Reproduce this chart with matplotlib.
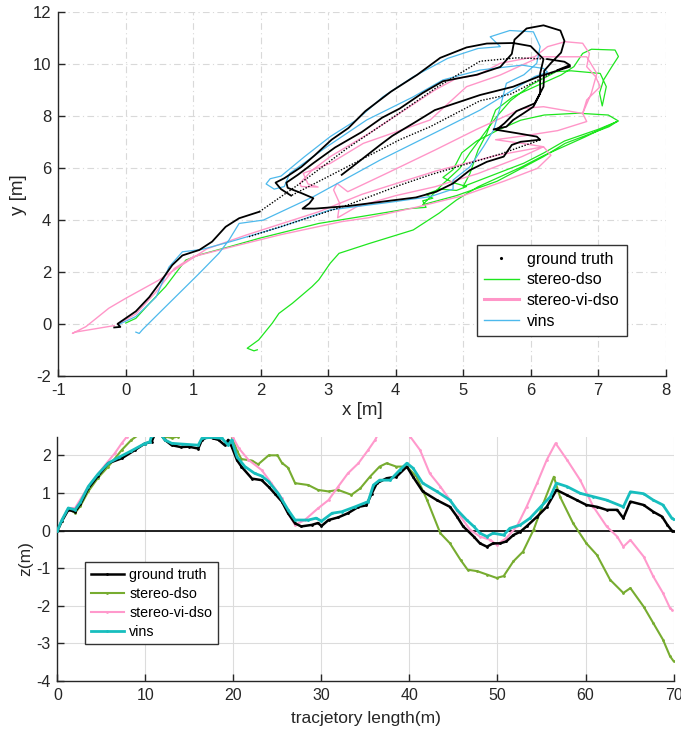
import numpy as np
import matplotlib
matplotlib.use("Agg")
import matplotlib.pyplot as plt
from matplotlib.lines import Line2D

plt.rcParams['font.family'] = ['Liberation Sans', 'DejaVu Sans']
plt.rcParams['axes.unicode_minus'] = False

NAN = (np.nan, np.nan)

# ---------------- top panel: x-y trajectories (m) ----------------
gt_solid_xy = [
    (-0.17, -0.12), (-0.08, -0.1), (-0.12, 0.02), (0.15, 0.5), (0.35, 1.05), (0.5, 1.58), (0.69, 2.28),
    (0.84, 2.65), (1.09, 2.86), (1.28, 3.18), (1.48, 3.75), (1.68, 4.08), (1.98, 4.33), NAN,
    (6.25, 10.2), (6.5, 10.1), (6.58, 9.97), (6.4, 9.78), NAN,
    (2.45, 4.95), (2.3, 5.2), (2.22, 5.45), (2.35, 5.62), (2.6, 6.05), (2.8, 6.5), (3.05, 7.1),
    (3.3, 7.55), (3.55, 8.2), (3.93, 8.95), (4.32, 9.6), (4.66, 10.25), (5.05, 10.65), (5.35, 10.8),
    (5.74, 10.82), (6.0, 10.7), (6.19, 10.2), (6.14, 9.65), (6.14, 8.88), (6.04, 8.37), (5.89, 8.11),
    (5.74, 7.86), (5.64, 7.6), (5.45, 7.5), (5.8, 7.35), (6.09, 7.22), (6.14, 7.1), (5.85, 7.02),
    (5.72, 6.9), (5.6, 6.45), (5.35, 6.25), (5.1, 5.93), (4.85, 5.42), (4.6, 5.1), (4.3, 4.88),
    (3.9, 4.75), (3.3, 4.55), (2.8, 4.45), (2.62, 4.45), (2.72, 4.65), (2.78, 4.85), (2.6, 5.05),
    (2.4, 5.25), (2.38, 5.45), (2.55, 5.75), (2.78, 6.2), (3.1, 6.8), (3.5, 7.4), (3.8, 7.95),
    (4.06, 8.3), (4.4, 8.9), (4.7, 9.35), (5.2, 9.6), (5.55, 9.9), (5.72, 10.4), (5.76, 10.95),
    (5.94, 11.38), (6.19, 11.5), (6.44, 11.3), (6.5, 10.9), (6.45, 10.45), (6.3, 10.05), (6.2, 9.75),
    (6.19, 9.14), (6.06, 8.5), (5.79, 8.2), (5.61, 7.73), (5.5, 7.5), NAN,
    (6.58, 9.91), (6.12, 9.53), (5.74, 9.14), (5.25, 8.82), (4.58, 8.24), (4.26, 7.73), (3.95, 7.25),
    (3.77, 6.9), (3.42, 6.19), (3.2, 5.75),
]
gt_dotted_xy = [
    (1.98, 4.33), (2.6, 5.45), (3.27, 6.75), (3.9, 7.85), (4.6, 9.1), (5.25, 10.12), (5.8, 10.25),
    (6.25, 10.2), NAN,
    (6.4, 9.78), (5.7, 8.85), (5.25, 8.6), (4.51, 7.6), (4.06, 7.1), (3.2, 5.95), (2.45, 4.95), NAN,
    (6.14, 7.09), (5.55, 6.55), (4.9, 6.05), (4.51, 5.75), (4.06, 5.35), (3.3, 4.6), (2.29, 3.75),
    (1.8, 3.35),
]
dso_xy = [
    (0.0, 0.05), (0.15, 0.23), (0.35, 0.8), (0.59, 1.45), (0.75, 2.0), (0.89, 2.47), (1.09, 2.67),
    (1.53, 2.98), (1.98, 3.31), (2.86, 3.88), (3.5, 4.15), (4.2, 4.45), (4.45, 4.5), (4.4, 4.75),
    (4.55, 4.85), (4.45, 5.0), (4.65, 5.2), (4.9, 5.15), (5.05, 5.3), (4.85, 5.45), (4.7, 5.65),
    (4.85, 5.95), (4.98, 6.6), (5.2, 7.05), (5.5, 7.45), (5.85, 7.85), (6.2, 8.05), (6.7, 8.12),
    (7.15, 8.05), (7.3, 7.82), (7.0, 7.5), (6.5, 7.05), (6.2, 6.6), (5.9, 6.2), (5.5, 5.8),
    (5.2, 5.5), (5.0, 5.3), (5.1, 5.8), (5.22, 6.7), (5.35, 7.35), (5.48, 8.24), (5.74, 8.76),
    (6.06, 9.14), (6.45, 9.59), (6.64, 9.91), (6.77, 10.42), (6.9, 10.58), (7.25, 10.55),
    (7.3, 10.3), (7.2, 9.9), (7.08, 9.4), (7.02, 8.9), (7.06, 8.4), (7.12, 9.14), (7.03, 9.65),
    (6.6, 9.75), (6.38, 9.72), (6.0, 9.2), (5.7, 8.6), (5.5, 8.0), (5.3, 7.3), (5.1, 6.6),
    (4.95, 6.0), (4.7, 5.4), (4.4, 4.6), (4.9, 4.95), (5.5, 5.5), (6.19, 6.45), (6.51, 6.96),
    (7.16, 7.6), (7.28, 7.8), (6.8, 7.2), (6.2, 6.5), (5.87, 6.06), (5.55, 5.68), (5.22, 5.29),
    (4.9, 4.78), (4.64, 4.27), (4.26, 3.63), (3.61, 3.11), (3.16, 2.73), (3.03, 2.35), (2.86, 1.71),
    (2.76, 1.45), (2.47, 0.81), (2.27, 0.42), (2.17, 0.04), (1.97, -0.6), (1.8, -0.92), (1.9, -1.02),
    (1.95, -0.98),
]
vidso_xy = [
    (-0.12, 0.0), (0.15, 0.4), (0.45, 1.25), (0.72, 2.15), (1.0, 2.6), (1.6, 3.0), (2.3, 3.45),
    (3.2, 3.95), (3.6, 4.1), (4.3, 4.5), (5.0, 4.95), (5.6, 5.5), (6.1, 6.0), (6.3, 6.5),
    (6.19, 6.83), (5.87, 6.96), (5.48, 7.1), (5.9, 7.25), (6.4, 7.45), (6.83, 7.8), (6.77, 8.11),
    (6.83, 8.63), (7.03, 9.14), (6.96, 9.53), (6.83, 9.91), (6.87, 10.42), (6.77, 10.81),
    (6.51, 10.87), (6.25, 10.68), (6.06, 10.29), (5.55, 10.04), (5.22, 9.59), (4.9, 9.46),
    (4.58, 9.01), (4.13, 8.24), (3.61, 7.35), (3.03, 6.45), (2.75, 5.9), (2.58, 5.42), (2.6, 5.3),
    (2.85, 5.28), (2.7, 5.4), (2.63, 5.81), (3.03, 6.19), (3.52, 6.96), (4.06, 7.45), (4.51, 7.86),
    (5.05, 9.14), (5.55, 9.59), (6.14, 10.29), (6.83, 10.29), (6.98, 9.65), (6.9, 8.9),
    (6.77, 8.11), (6.19, 8.37), (5.87, 8.3), (5.2, 7.5), (4.58, 6.7), (3.9, 5.85), (3.29, 5.1),
    (3.13, 5.42), (3.08, 5.17), (3.17, 4.65), (3.14, 4.1), (3.42, 4.52), (4.0, 4.95), (4.58, 5.29),
    (5.22, 5.8), (5.87, 6.45), (6.19, 6.83), (5.5, 6.5), (4.6, 5.9), (3.5, 5.0), (2.86, 4.33),
    (1.78, 3.43), (1.2, 2.9), (0.49, 1.7), (0.0, 1.0), (-0.25, 0.62), (-0.59, -0.09),
    (-0.79, -0.35), (-0.75, -0.3), (-0.17, -0.05),
]
vins_xy = [
    (-0.1, 0.0), (0.15, 0.3), (0.45, 1.05), (0.64, 2.2), (0.84, 2.79), (1.13, 2.88), (1.58, 3.2),
    (2.3, 3.75), (3.03, 4.4), (3.93, 4.7), (4.51, 4.91), (4.85, 5.2), (4.85, 5.55), (5.1, 6.06),
    (5.3, 6.83), (5.45, 7.47), (5.55, 8.37), (5.64, 9.27), (5.9, 9.6), (6.09, 10.04), (6.14, 10.68),
    (6.04, 11.25), (5.69, 11.3), (5.4, 11.06), (5.55, 10.68), (5.22, 10.61), (4.77, 10.23),
    (4.26, 9.52), (3.81, 8.75), (3.42, 7.86), (3.03, 7.22), (2.65, 6.45), (2.3, 5.7), (2.14, 5.6),
    (2.08, 5.4), (2.2, 5.2), (2.35, 5.3), (2.43, 5.81), (2.98, 6.83), (3.57, 7.86), (4.26, 8.75),
    (4.7, 9.4), (5.25, 9.78), (5.87, 9.97), (6.19, 9.84), (6.25, 9.7), (6.06, 9.53), (5.25, 8.24),
    (4.66, 7.47), (3.77, 6.32), (2.78, 4.91), (2.04, 4.01), (1.68, 3.88), (1.53, 3.24),
    (1.38, 2.73), (1.09, 1.96), (0.79, 1.19), (0.49, 0.42), (0.25, -0.2), (0.2, -0.35),
    (0.15, -0.3),
]

# ---------------- bottom panel: z vs trajectory length ----------------
gt_s = [0, 0.5, 1.23, 2.0, 2.6, 3.5, 4.6, 5.77, 7.3, 8.8, 9.9, 10.7, 11.3, 12.2, 12.97, 14.0, 14.9,
        16.0, 16.4, 17.1, 17.7, 18.3, 19.0, 19.4, 19.8, 20.4, 20.9, 22.1, 23.2, 24.0, 24.7, 25.5,
        26.2, 27.0, 27.7, 28.9, 29.6, 30.0, 30.8, 31.9, 33.0, 34.2, 35.1, 35.7, 36.3, 37.4, 38.5,
        39.7, 40.4, 41.5, 43.1, 44.6, 45.4, 46.1, 47.3, 48.0, 48.8, 49.5, 50.3, 51.0, 51.8, 52.6,
        53.3, 54.5, 55.6, 56.7, 57.9, 59.0, 60.1, 61.3, 62.4, 63.6, 64.3, 65.1, 66.6, 67.7, 68.7,
        69.3, 69.8, 70.0]
gt_z = [0, 0.25, 0.55, 0.5, 0.7, 1.12, 1.45, 1.79, 1.92, 2.14, 2.31, 2.36, 2.7, 2.41, 2.27, 2.22,
        2.23, 2.18, 2.4, 2.5, 2.45, 2.41, 2.27, 2.41, 2.23, 1.87, 1.70, 1.38, 1.34, 1.16, 0.98, 0.77,
        0.46, 0.19, 0.11, 0.15, 0.2, 0.12, 0.28, 0.35, 0.46, 0.63, 0.67, 0.98, 1.26, 1.39, 1.43,
        1.70, 1.43, 1.04, 0.81, 0.63, 0.37, 0.11, -0.16, -0.34, -0.43, -0.34, -0.34, -0.29, -0.12,
        -0.03, 0.11, 0.37, 0.63, 1.08, 0.94, 0.81, 0.68, 0.63, 0.55, 0.55, 0.33, 0.77, 0.68, 0.50,
        0.37, 0.15, 0.0, -0.02]
dso_s = [0, 0.5, 1.23, 2.0, 2.6, 3.5, 4.6, 5.77, 7.3, 8.4, 9.2, 10.5, 12.2, 13.0, 13.7, 15.5, 18.0,
         19.8, 20.4, 20.9, 22.1, 22.8, 24.0, 25.0, 25.5, 26.2, 27.0, 28.5, 29.6, 30.8, 31.9, 33.4,
         34.4, 35.5, 36.6, 37.4, 38.5, 39.7, 40.8, 42.0, 43.5, 44.6, 45.8, 46.6, 47.7, 48.8, 49.9,
         50.7, 51.8, 52.9, 54.1, 55.2, 56.4, 57.1, 58.6, 60.1, 61.3, 62.8, 64.3, 65.1, 66.6, 67.7,
         68.8, 69.6, 70.0]
dso_z = [0, 0.25, 0.58, 0.47, 0.65, 1.04, 1.4, 1.70, 2.14, 2.41, 2.54, 2.8, 2.5, 2.46, 2.5, 2.8,
         2.9, 2.5, 2.12, 1.90, 1.86, 1.76, 2.0, 2.0, 1.8, 1.67, 1.26, 1.21, 1.08, 1.04, 1.08, 0.95,
         1.12, 1.43, 1.70, 1.79, 1.70, 1.70, 1.43, 0.81, -0.07, -0.34, -0.78, -1.04, -1.08, -1.17,
         -1.26, -1.21, -0.82, -0.56, 0.02, 0.72, 1.43, 0.9, 0.19, -0.34, -0.65, -1.31, -1.66, -1.53,
         -2.02, -2.46, -2.90, -3.34, -3.47]
vidso_s = [0, 0.5, 1.23, 2.0, 3.5, 5.4, 6.5, 7.3, 7.9, 9.5, 14.0, 18.0, 20.0, 20.6, 21.7, 23.2, 24.3,
           25.5, 26.2, 27.0, 28.1, 29.6, 30.8, 31.9, 33.0, 34.2, 35.3, 36.1, 36.5, 38.2, 39.8, 40.1,
           41.2, 42.3, 43.5, 44.6, 45.8, 46.9, 48.0, 49.2, 49.9, 51.0, 52.2, 53.3, 54.5, 55.6, 56.6,
           57.9, 59.4, 60.9, 62.4, 63.6, 64.3, 65.1, 66.6, 67.7, 68.8, 69.6, 69.8]
vidso_z = [0, 0.28, 0.6, 0.6, 1.17, 1.74, 2.05, 2.32, 2.5, 3.0, 3.3, 3.0, 2.45, 2.19, 1.88, 1.61,
           1.26, 0.86, 0.46, 0.15, 0.28, 0.59, 0.81, 1.17, 1.52, 1.79, 2.14, 2.41, 2.6, 3.1, 2.7,
           2.49, 2.14, 1.52, 1.17, 0.81, 0.37, 0.02, -0.16, -0.25, -0.38, -0.20, 0.11, 0.63, 1.26,
           1.88, 2.32, 1.88, 1.34, 0.63, 0.11, -0.16, -0.43, -0.25, -0.69, -1.22, -1.66, -2.06, -2.1]
vins_s = [0, 0.5, 1.23, 2.0, 2.6, 3.5, 4.6, 5.77, 7.0, 8.4, 9.9, 10.5, 10.7, 11.3, 12.2, 12.97,
          14.1, 16.0, 16.4, 17.5, 18.7, 19.4, 19.8, 20.4, 21.3, 22.4, 23.2, 24.0, 25.1, 26.2, 27.0,
          28.5, 29.4, 30.0, 31.2, 32.3, 33.8, 35.3, 35.9, 36.6, 37.8, 38.9, 39.7, 40.4, 41.5, 43.1,
          44.6, 45.4, 46.5, 47.3, 48.0, 48.8, 49.5, 50.7, 51.4, 52.6, 53.7, 54.9, 56.0, 56.7, 57.9,
          59.4, 60.9, 62.4, 64.3, 65.1, 66.6, 67.7, 68.8, 69.8, 70.0]
vins_z = [0, 0.28, 0.6, 0.55, 0.75, 1.17, 1.5, 1.79, 1.95, 2.12, 2.31, 2.36, 2.52, 2.7, 2.41, 2.32,
          2.3, 2.27, 2.45, 2.48, 2.45, 2.27, 2.41, 1.96, 1.70, 1.52, 1.45, 1.30, 0.98, 0.55, 0.28,
          0.28, 0.33, 0.25, 0.46, 0.50, 0.63, 0.77, 1.21, 1.34, 1.34, 1.61, 1.79, 1.66, 1.26, 1.04,
          0.81, 0.55, 0.28, 0.11, -0.07, -0.16, -0.07, -0.12, 0.06, 0.15, 0.33, 0.63, 0.90, 1.26,
          1.17, 0.99, 0.90, 0.81, 0.63, 1.03, 0.98, 0.81, 0.68, 0.33, 0.3]
zero_ref = 0.0

top_labels = ['ground truth', 'stereo-dso', 'stereo-vi-dso', 'vins']
bot_labels = ['ground truth', 'stereo-dso', 'stereo-vi-dso', 'vins']


def xy(points):
    a = np.array(points, dtype=float)
    return a[:, 0], a[:, 1]


AX_COLOR = '#262626'
fig = plt.figure(figsize=(6.81, 7.34), dpi=100)

# ---------- top ----------
ax1 = fig.add_axes([0.0855, 0.4873, 0.892, 0.4959])
gx, gy = xy(gt_solid_xy)
dx, dy = xy(gt_dotted_xy)
sx, sy = xy(dso_xy)
px, py = xy(vidso_xy)
vx, vy = xy(vins_xy)
ax1.plot(sx, sy, color='#1EE61E', lw=0.9, zorder=3)
ax1.plot(px, py, color='#FF96C8', lw=1.0, zorder=3)
ax1.plot(vx, vy, color='#4DB9EC', lw=0.9, zorder=4)
ax1.plot(gx, gy, color='black', lw=1.3, zorder=5)
ax1.plot(dx, dy, color='black', lw=1.0, ls=(0, (1, 1.2)), zorder=5)

ax1.set_xlim(-1, 8)
ax1.set_ylim(-2, 12)
ax1.set_xticks(range(-1, 9))
ax1.set_yticks(range(-2, 13, 2))
ax1.grid(True, color='#D9D9D9', ls=(0, (6, 3, 1, 3)), lw=0.8)
ax1.set_axisbelow(True)
ax1.set_xlabel('x [m]', fontsize=13.5, color=AX_COLOR, labelpad=3)
ax1.set_ylabel('y [m]', fontsize=13.5, color=AX_COLOR, labelpad=4)

h_gt = Line2D([], [], ls='none', marker='.', ms=2.5, color='black')
h_dso = Line2D([], [], color='#1EE61E', lw=1.0)
h_vidso = Line2D([], [], color='#FF96C8', lw=2.2)
h_vins = Line2D([], [], color='#4DB9EC', lw=1.0)
leg1 = ax1.legend([h_gt, h_dso, h_vidso, h_vins], top_labels, loc='lower right',
                  bbox_to_anchor=(0.936, 0.1115), fontsize=11.5, frameon=True, fancybox=False,
                  framealpha=1, edgecolor='#333333', handlelength=2.2, handletextpad=0.5,
                  borderpad=0.45, labelspacing=0.35, borderaxespad=0)
leg1.get_frame().set_linewidth(1.0)

# ---------- bottom ----------
ax2 = fig.add_axes([0.0844, 0.0722, 0.9046, 0.3331])
ax2.axhline(zero_ref, color='#111111', lw=1.3, zorder=2)
ax2.plot(gt_s, gt_z, color='black', lw=1.8, marker='.', ms=2, zorder=4, label=bot_labels[0])
ax2.plot(dso_s, dso_z, color='#77AC30', lw=1.5, marker='.', ms=2, zorder=3, label=bot_labels[1])
ax2.plot(vidso_s, vidso_z, color='#FF99CC', lw=1.5, marker='.', ms=2, zorder=3, label=bot_labels[2])
ax2.plot(vins_s, vins_z, color='#17BEBE', lw=2.0, marker='.', ms=2, zorder=4, label=bot_labels[3])
ax2.set_xlim(0, 70)
ax2.set_ylim(-4, 2.5)
ax2.set_xticks(range(0, 71, 10))
ax2.set_yticks(range(-4, 3))
ax2.grid(True, color='#DCDCDC', lw=0.8)
ax2.set_axisbelow(True)
ax2.set_xlabel('tracjetory length(m)', fontsize=12.5, color=AX_COLOR, labelpad=6)
ax2.set_ylabel('z(m)', fontsize=12.5, color=AX_COLOR, labelpad=2)
leg2 = ax2.legend(loc='upper left', bbox_to_anchor=(0.0446, 0.487), fontsize=10.3, frameon=True,
                  fancybox=False, framealpha=1, edgecolor='#333333', handlelength=2.3,
                  handletextpad=0.4, borderpad=0.4, labelspacing=0.35, borderaxespad=0,
                  numpoints=1)
leg2.get_frame().set_linewidth(1.0)

for ax, fs in ((ax1, 12), (ax2, 11.5)):
    for side in ('top', 'right'):
        ax.spines[side].set_visible(False)
    for side in ('left', 'bottom'):
        ax.spines[side].set_color(AX_COLOR)
        ax.spines[side].set_linewidth(1.0)
    ax.tick_params(direction='in', length=5, width=1.0, colors=AX_COLOR, labelsize=fs, pad=5)

fig.savefig('out.png', dpi=100)
